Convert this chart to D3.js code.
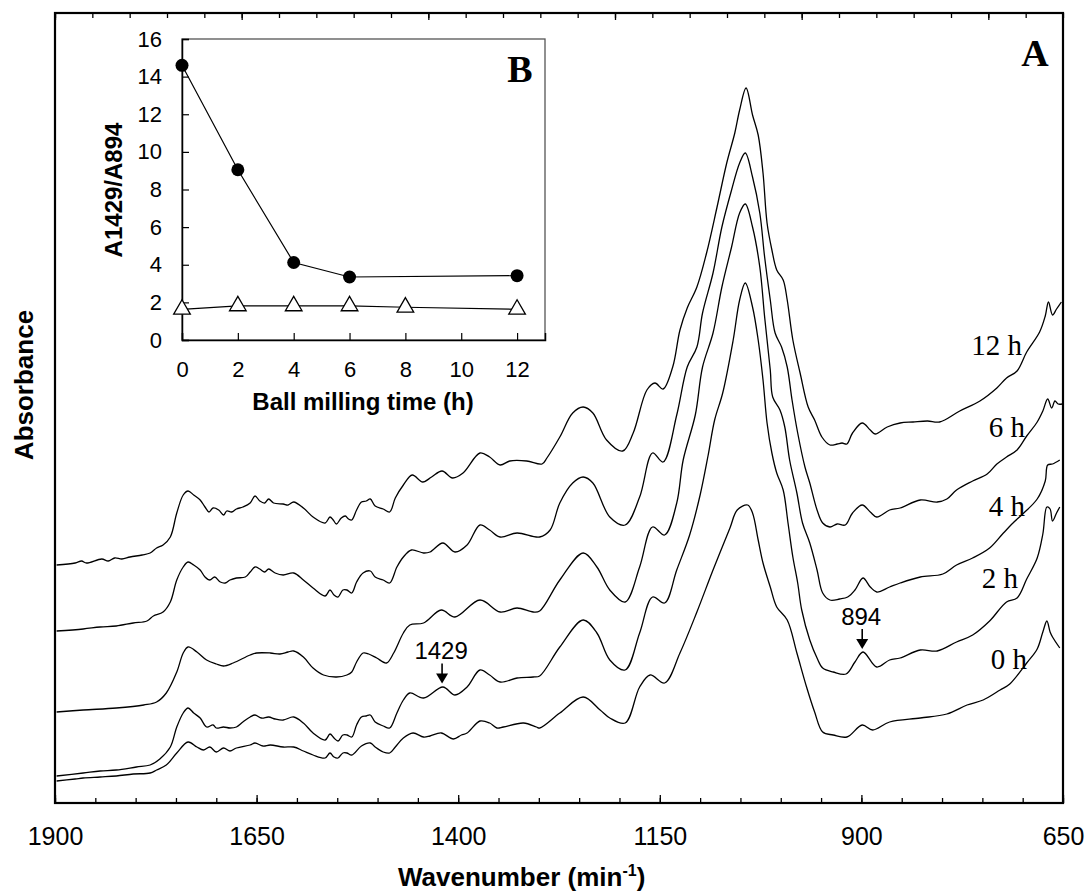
<!DOCTYPE html>
<html><head><meta charset="utf-8">
<script src="https://cdn.jsdelivr.net/npm/d3@7"></script>
<style>
html,body{margin:0;padding:0;background:#fff;}
svg{display:block;}
</style></head>
<body>
<svg id="chart" width="1090" height="894"></svg>
<script>
// ---------- DATA ----------
const xTicksMajor = [1900, 1650, 1400, 1150, 900, 650];
const seriesNames = ["12 h", "6 h", "4 h", "2 h", "0 h"];

const spec12h = [[1898,2.38],[1875,2.40],[1867,2.42],[1861,2.40],[1842,2.44],[1834,2.42],[1826,2.45],[1817,2.44],[1807,2.46],[1792,2.48],[1782,2.50],[1774,2.55],[1766,2.58],[1757,2.66],[1749,2.90],[1741,3.08],[1735,3.12],[1728,3.08],[1720,3.03],[1714,2.96],[1709,2.91],[1704,2.95],[1697,2.93],[1691,2.88],[1687,2.92],[1681,2.91],[1675,2.94],[1667,2.96],[1658,3.00],[1652,3.07],[1646,3.02],[1640,3.00],[1635,3.04],[1629,3.00],[1617,2.99],[1611,2.98],[1604,3.01],[1592,2.95],[1580,2.86],[1565,2.80],[1559,2.86],[1555,2.83],[1551,2.79],[1545,2.85],[1540,2.87],[1536,2.84],[1532,2.83],[1526,2.93],[1520,3.01],[1514,3.02],[1509,3.04],[1503,2.97],[1493,2.94],[1485,2.91],[1478,3.05],[1468,3.18],[1457,3.28],[1444,3.21],[1433,3.26],[1420,3.32],[1407,3.25],[1394,3.30],[1373,3.50],[1361,3.46],[1348,3.38],[1336,3.42],[1315,3.42],[1296,3.39],[1290,3.45],[1274,3.66],[1258,3.90],[1245,3.96],[1233,3.90],[1216,3.63],[1196,3.52],[1183,3.70],[1166,4.13],[1156,4.20],[1146,4.14],[1134,4.36],[1125,4.73],[1116,4.95],[1104,5.16],[1092,5.50],[1079,5.96],[1067,6.40],[1057,6.70],[1051,6.93],[1043,7.15],[1035,6.88],[1028,6.68],[1022,6.30],[1017,5.80],[1011,5.53],[1005,5.33],[997,5.23],[992,5.03],[985,4.63],[976,4.30],[966,3.96],[958,3.83],[949,3.66],[939,3.58],[930,3.59],[924,3.60],[918,3.59],[911,3.70],[899,3.80],[889,3.73],[883,3.69],[868,3.76],[852,3.80],[836,3.81],[818,3.82],[803,3.81],[778,3.92],[753,4.02],[732,4.15],[720,4.25],[707,4.32],[695,4.51],[679,4.71],[672,4.87],[668,5.01],[663,4.88],[658,4.94],[652,5.01]];

const spec6h = [[1898,1.72],[1865,1.74],[1844,1.76],[1824,1.77],[1803,1.80],[1786,1.82],[1778,1.87],[1766,1.91],[1757,2.01],[1749,2.23],[1741,2.36],[1735,2.41],[1728,2.38],[1720,2.33],[1714,2.26],[1708,2.23],[1702,2.26],[1695,2.21],[1689,2.20],[1683,2.23],[1675,2.25],[1664,2.26],[1658,2.31],[1652,2.36],[1646,2.34],[1640,2.31],[1635,2.34],[1627,2.30],[1617,2.28],[1604,2.30],[1592,2.23],[1580,2.15],[1565,2.07],[1559,2.13],[1554,2.08],[1549,2.06],[1543,2.13],[1538,2.13],[1532,2.10],[1526,2.21],[1518,2.30],[1509,2.32],[1503,2.26],[1493,2.23],[1485,2.20],[1476,2.36],[1468,2.46],[1458,2.53],[1443,2.50],[1435,2.51],[1419,2.60],[1404,2.51],[1389,2.58],[1373,2.78],[1361,2.73],[1348,2.66],[1327,2.70],[1299,2.66],[1286,2.73],[1274,3.00],[1258,3.20],[1245,3.26],[1233,3.20],[1212,2.86],[1193,2.78],[1175,3.06],[1159,3.50],[1146,3.41],[1129,3.88],[1116,4.36],[1104,4.56],[1097,4.90],[1084,5.30],[1073,5.76],[1061,6.13],[1051,6.40],[1044,6.50],[1035,6.26],[1026,5.90],[1020,5.46],[1013,5.03],[1007,4.70],[999,4.56],[992,4.36],[986,4.03],[979,3.70],[970,3.36],[964,3.20],[955,2.93],[948,2.80],[939,2.76],[930,2.79],[920,2.78],[911,2.90],[899,2.98],[889,2.91],[881,2.86],[865,2.93],[852,2.95],[827,3.03],[806,3.01],[794,3.04],[782,3.13],[762,3.22],[744,3.29],[732,3.39],[720,3.46],[707,3.53],[695,3.67],[682,3.81],[675,3.92],[669,4.04],[664,3.95],[660,4.02],[656,3.99],[651,3.99]];

const spec4h = [[1898,0.91],[1865,0.93],[1824,0.95],[1790,0.98],[1774,1.01],[1762,1.10],[1749,1.31],[1741,1.50],[1735,1.56],[1724,1.51],[1712,1.43],[1700,1.39],[1691,1.37],[1679,1.40],[1658,1.48],[1650,1.50],[1633,1.50],[1621,1.49],[1611,1.51],[1604,1.52],[1592,1.46],[1580,1.35],[1567,1.28],[1551,1.26],[1538,1.28],[1532,1.31],[1526,1.41],[1518,1.50],[1511,1.49],[1501,1.45],[1489,1.40],[1480,1.50],[1468,1.70],[1460,1.78],[1443,1.80],[1421,1.93],[1404,1.86],[1373,2.03],[1348,1.91],[1327,1.95],[1307,1.91],[1299,1.92],[1274,2.23],[1245,2.50],[1228,2.36],[1212,2.13],[1193,2.01],[1175,2.36],[1159,2.76],[1144,2.68],[1129,3.00],[1121,3.43],[1106,3.88],[1097,4.36],[1084,4.70],[1073,5.16],[1061,5.56],[1051,5.90],[1044,5.99],[1035,5.76],[1026,5.36],[1020,4.86],[1013,4.33],[1010,4.06],[1001,3.93],[995,3.76],[989,3.43],[980,3.10],[973,2.80],[964,2.60],[955,2.33],[948,2.10],[939,2.03],[927,2.04],[917,2.06],[908,2.13],[898,2.25],[889,2.16],[881,2.11],[865,2.16],[852,2.20],[827,2.26],[799,2.29],[782,2.38],[762,2.45],[741,2.55],[725,2.69],[712,2.80],[700,2.89],[682,3.04],[672,3.22],[669,3.38],[663,3.39],[654,3.43]];

const spec2h = [[1898,0.27],[1865,0.30],[1844,0.32],[1824,0.33],[1799,0.36],[1782,0.38],[1770,0.44],[1757,0.56],[1749,0.76],[1741,0.90],[1735,0.95],[1728,0.90],[1720,0.85],[1712,0.76],[1704,0.78],[1700,0.75],[1691,0.76],[1683,0.75],[1675,0.76],[1667,0.81],[1658,0.86],[1652,0.88],[1644,0.85],[1635,0.86],[1627,0.84],[1617,0.83],[1604,0.86],[1592,0.80],[1580,0.70],[1565,0.63],[1559,0.69],[1554,0.65],[1549,0.62],[1543,0.68],[1538,0.68],[1532,0.66],[1526,0.78],[1520,0.86],[1514,0.87],[1509,0.88],[1503,0.81],[1493,0.77],[1485,0.75],[1476,0.90],[1468,1.03],[1460,1.10],[1443,1.05],[1419,1.16],[1404,1.08],[1389,1.16],[1373,1.33],[1361,1.28],[1348,1.21],[1327,1.25],[1307,1.26],[1299,1.27],[1274,1.56],[1245,1.83],[1228,1.70],[1212,1.43],[1193,1.33],[1175,1.70],[1159,2.06],[1144,2.00],[1129,2.33],[1113,2.68],[1100,3.08],[1090,3.48],[1082,3.83],[1072,4.10],[1059,4.63],[1051,5.03],[1044,5.20],[1035,4.96],[1028,4.63],[1022,4.23],[1017,3.80],[1011,3.50],[1005,3.30],[997,3.13],[991,2.80],[985,2.46],[979,2.20],[974,1.93],[964,1.63],[955,1.45],[948,1.35],[935,1.31],[919,1.29],[908,1.41],[898,1.51],[881,1.36],[865,1.43],[852,1.45],[827,1.53],[806,1.52],[782,1.61],[762,1.68],[741,1.82],[720,2.01],[707,2.05],[695,2.24],[682,2.45],[675,2.69],[670,2.96],[666,2.94],[663,2.82],[658,2.90],[654,2.96]];

const spec0h = [[1898,0.22],[1875,0.24],[1865,0.25],[1844,0.26],[1824,0.27],[1803,0.29],[1782,0.30],[1774,0.33],[1762,0.38],[1749,0.50],[1735,0.61],[1724,0.56],[1716,0.53],[1708,0.56],[1700,0.51],[1691,0.55],[1683,0.52],[1675,0.55],[1658,0.58],[1652,0.60],[1642,0.57],[1633,0.58],[1617,0.56],[1604,0.56],[1592,0.52],[1580,0.48],[1565,0.45],[1559,0.50],[1554,0.46],[1549,0.45],[1543,0.50],[1538,0.50],[1532,0.48],[1520,0.57],[1509,0.60],[1503,0.56],[1493,0.51],[1485,0.50],[1478,0.56],[1468,0.65],[1456,0.70],[1443,0.66],[1435,0.67],[1421,0.70],[1406,0.64],[1396,0.68],[1389,0.70],[1373,0.82],[1361,0.80],[1352,0.75],[1344,0.76],[1319,0.80],[1303,0.76],[1299,0.75],[1274,0.90],[1245,1.06],[1224,0.93],[1212,0.85],[1193,0.80],[1175,1.16],[1162,1.28],[1144,1.20],[1125,1.50],[1104,1.91],[1084,2.33],[1063,2.75],[1054,2.93],[1041,2.98],[1035,2.90],[1028,2.63],[1022,2.40],[1013,2.16],[1005,1.96],[992,1.83],[980,1.50],[968,1.16],[958,0.91],[948,0.71],[935,0.68],[918,0.66],[899,0.78],[886,0.73],[865,0.81],[827,0.85],[794,0.89],[769,0.98],[749,1.03],[728,1.13],[716,1.19],[695,1.40],[682,1.54],[675,1.71],[670,1.82],[666,1.71],[663,1.66],[654,1.55]];

// Inset (B)
const insetTimeCircle = [0, 2, 4, 6, 12];
const insetRatioCircle = [14.6, 9.05, 4.12, 3.35, 3.42];
const insetTimeTriangle = [0, 2, 4, 6, 8, 12];
const insetRatioTriangle = [1.63, 1.81, 1.81, 1.81, 1.74, 1.63];
const insetXTicks = [0, 2, 4, 6, 8, 10, 12];
const insetYTicks = [0, 2, 4, 6, 8, 10, 12, 14, 16];

// Annotations
const annotLabels = ["1429", "894"];
const annotWavenumber = [1420, 899];

// ---------- LAYOUT ----------
const SANS = "'Liberation Sans', Arial, Helvetica, sans-serif";
const SERIF = "'Liberation Serif', 'Times New Roman', Times, serif";
const svg = d3.select("#chart");
const L = 55, R = 1063, T = 13, B = 803;

const x = d3.scaleLinear().domain([1900, 650]).range([L, R]);
const y = d3.scaleLinear().domain([0, 7.9]).range([B, T]);

const line = d3.line().x(d => x(d[0])).y(d => y(d[1])).curve(d3.curveCatmullRom.alpha(0.5));

// spectra
const spectra = [spec12h, spec6h, spec4h, spec2h, spec0h];
svg.append("g").selectAll("path").data(spectra).join("path")
  .attr("d", line).attr("fill", "none").attr("stroke", "#000").attr("stroke-width", 1.3)
  .attr("stroke-linejoin", "round");

// bottom axis ticks (minor + major)
const gB = svg.append("g").attr("transform", `translate(0,${B})`);
gB.call(d3.axisBottom(x).tickValues(d3.range(1900, 649, -50)).tickSize(-5).tickFormat(""));
const gBM = svg.append("g").attr("transform", `translate(0,${B})`);
gBM.call(d3.axisBottom(x).tickValues(xTicksMajor).tickSize(-8).tickPadding(24).tickFormat(d3.format("d")));
[gB, gBM].forEach(g => { g.select(".domain").remove(); g.selectAll("line").attr("stroke", "#000").attr("stroke-width", 1.3); });
gBM.selectAll("text").attr("font-family", SANS).attr("font-size", 25).attr("fill", "#000");

// top axis (secondary, unlabeled)
const xTop = d3.scaleLinear().domain([0, 27]).range([L, R]);
const gT = svg.append("g").attr("transform", `translate(0,${T})`);
gT.call(d3.axisTop(xTop).tickValues(d3.range(0, 28)).tickSize(-5).tickFormat(""));
const gTM = svg.append("g").attr("transform", `translate(0,${T})`);
gTM.call(d3.axisTop(xTop).tickValues(d3.range(0, 28, 5)).tickSize(-7).tickFormat(""));
[gT, gTM].forEach(g => { g.select(".domain").remove(); g.selectAll("line").attr("stroke", "#000").attr("stroke-width", 1.3); });

// frame
svg.append("rect").attr("x", L).attr("y", T).attr("width", R - L).attr("height", B - T)
  .attr("fill", "none").attr("stroke", "#000").attr("stroke-width", 2.2);

// axis titles
const xt = svg.append("text").attr("x", 398).attr("y", 886).attr("font-family", SANS)
  .attr("font-size", 26).attr("font-weight", "bold").attr("fill", "#000");
xt.append("tspan").text("Wavenumber (min");
xt.append("tspan").attr("font-size", 16).attr("dy", -10).text("-1");
xt.append("tspan").attr("dy", 10).text(")");

svg.append("text").attr("transform", "translate(33,385) rotate(-90)").attr("text-anchor", "middle")
  .attr("font-family", SANS).attr("font-size", 26).attr("font-weight", "bold").text("Absorbance");

// panel letter A
svg.append("text").attr("x", 1035).attr("y", 66).attr("text-anchor", "middle")
  .attr("font-family", SERIF).attr("font-size", 38).attr("font-weight", "bold").text("A");

// curve labels
const labelPos = [[1022, 355], [1025, 437], [1025, 516], [1018, 588], [1027, 669]];
svg.append("g").selectAll("text").data(seriesNames).join("text")
  .attr("x", (d, i) => labelPos[i][0]).attr("y", (d, i) => labelPos[i][1])
  .attr("text-anchor", "end").attr("font-family", SERIF).attr("font-size", 29).text(d => d);

// annotations (arrows on 2 h curve)
const interp = (spec, w) => {
  for (let i = 0; i < spec.length - 1; i++) {
    const a = spec[i], b = spec[i + 1];
    if (w <= a[0] && w >= b[0]) { const t = (a[0] - w) / (a[0] - b[0]); return a[1] + t * (b[1] - a[1]); }
  }
  return spec[spec.length - 1][1];
};
annotLabels.forEach((lab, i) => {
  const ax = x(annotWavenumber[i]);
  const tip = y(interp(spec2h, annotWavenumber[i])) - 4;
  const g = svg.append("g");
  g.append("text").attr("x", ax - 1).attr("y", tip - 24).attr("text-anchor", "middle")
    .attr("font-family", SANS).attr("font-size", 24).text(lab);
  g.append("line").attr("x1", ax).attr("x2", ax).attr("y1", tip - 20).attr("y2", tip - 8)
    .attr("stroke", "#000").attr("stroke-width", 1.6);
  g.append("path").attr("d", `M${ax - 6},${tip - 10}L${ax + 6},${tip - 10}L${ax},${tip}Z`).attr("fill", "#000");
});

// ---------- INSET B ----------
const iL = 182, iR = 545, iT = 39, iB = 340;
const xi = d3.scaleLinear().domain([0, 13]).range([iL, iR]);
const yi = d3.scaleLinear().domain([0, 16]).range([iB, iT]);
const ginset = svg.append("g");
ginset.append("rect").attr("x", iL).attr("y", iT).attr("width", iR - iL).attr("height", iB - iT)
  .attr("fill", "#fff").attr("stroke", "#555").attr("stroke-width", 1.3);

const gxi = ginset.append("g").attr("transform", `translate(0,${iB})`)
  .call(d3.axisBottom(xi).tickValues(insetXTicks).tickSize(-7).tickPadding(21));
const gyi = ginset.append("g").attr("transform", `translate(${iL},0)`)
  .call(d3.axisLeft(yi).tickValues(insetYTicks).tickSize(-7).tickPadding(20));
[gxi, gyi].forEach(g => {
  g.select(".domain").attr("stroke", "#000").attr("stroke-width", 1.5);
  g.selectAll("line").attr("stroke", "#000").attr("stroke-width", 1.2);
  g.selectAll("text").attr("font-family", SANS).attr("font-size", 22).attr("fill", "#000");
});

const iline = d3.line().x(d => xi(d[0])).y(d => yi(d[1]));
const circData = insetTimeCircle.map((t, i) => [t, insetRatioCircle[i]]);
const triData = insetTimeTriangle.map((t, i) => [t, insetRatioTriangle[i]]);
ginset.append("path").attr("d", iline(circData)).attr("fill", "none").attr("stroke", "#000").attr("stroke-width", 1.2);
ginset.append("path").attr("d", iline(triData)).attr("fill", "none").attr("stroke", "#000").attr("stroke-width", 1.2);
ginset.selectAll("circle.pt").data(circData).join("circle").attr("class", "pt")
  .attr("cx", d => xi(d[0])).attr("cy", d => yi(d[1])).attr("r", 6.5).attr("fill", "#000");
const tri = d3.symbol().type(d3.symbolTriangle).size(120);
ginset.selectAll("path.tri").data(triData).join("path").attr("class", "tri")
  .attr("d", tri).attr("transform", d => `translate(${xi(d[0])},${yi(d[1])})`)
  .attr("fill", "#fff").attr("stroke", "#000").attr("stroke-width", 1.3);

ginset.append("text").attr("x", 363).attr("y", 410).attr("text-anchor", "middle")
  .attr("font-family", SANS).attr("font-size", 24).attr("font-weight", "bold").text("Ball milling time (h)");
ginset.append("text").attr("transform", "translate(122,190) rotate(-90)").attr("text-anchor", "middle")
  .attr("font-family", SANS).attr("font-size", 24).attr("font-weight", "bold").text("A1429/A894");
ginset.append("text").attr("x", 520).attr("y", 82).attr("text-anchor", "middle")
  .attr("font-family", SERIF).attr("font-size", 38).attr("font-weight", "bold").text("B");
</script>
</body></html>
